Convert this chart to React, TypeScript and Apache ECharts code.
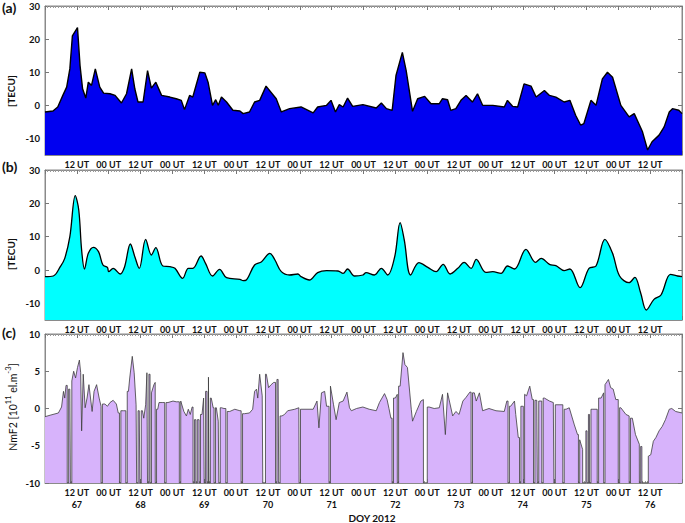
import React, { useEffect, useRef } from 'react';
import * as echarts from 'echarts';

// ---- Panel (a): TEC (dark blue) ----
const aDoy = [67.00, 67.125, 67.20, 67.28, 67.34, 67.39, 67.43, 67.51, 67.55, 67.59, 67.64, 67.68, 67.73, 67.79, 67.86, 67.92,
  68.02, 68.10, 68.20, 68.28, 68.36, 68.41, 68.46, 68.54, 68.61, 68.67, 68.74, 68.83, 68.96,
  69.06, 69.14, 69.19, 69.27, 69.32, 69.43, 69.51, 69.56, 69.63, 69.68, 69.72, 69.77, 69.85, 69.95,
  70.06, 70.11, 70.21, 70.29, 70.37, 70.47, 70.63, 70.71, 70.84,
  71.02, 71.21, 71.28, 71.42, 71.49, 71.56, 71.62, 71.68, 71.75, 71.83, 71.99,
  72.20, 72.28, 72.36, 72.45, 72.51, 72.61, 72.67, 72.77, 72.85, 72.96,
  73.06, 73.19, 73.24, 73.32, 73.37, 73.45, 73.53, 73.61, 73.71, 73.79, 73.87,
  74.03, 74.21, 74.26, 74.34, 74.42, 74.52, 74.63, 74.71, 74.84, 74.92,
  75.02, 75.15, 75.24, 75.33, 75.41, 75.46, 75.57, 75.65, 75.75, 75.83, 75.91,
  76.04, 76.17, 76.25, 76.38, 76.46, 76.53, 76.64, 76.72, 76.80, 76.85, 76.95, 77.00];
const aTec = [-2, -1.7, -0.5, 3, 5.5, 11, 21, 23.5, 12, 5, 2.2, 7, 6, 11, 5.5, 3.7,
  3.5, 3, 0.7, 3.5, 11, 5, 1, 1, 10.5, 5.2, 7, 3, 2.5,
  2, 1.5, -1.3, 3, 2.5, 10, 9.8, 7, 0, 1.7, 0, 2.5, 1, -1.5,
  -1.7, -2.5, -2, 1, 1.5, 5.8, 2, -2, -1,
  -0.5, -2.3, -0.5, 0, 1.5, -2, 0.2, -0.5, 2.2, -0.3, 0.2,
  -0.8, 0.7, -1, -1.5, 9, 16, 10.5, -1.8, 2, 2.7,
  0.5, 0.5, 2, 1.7, -1.5, -1, 1.5, 3, 1, 3.5, 0,
  0, -0.5, 1.5, -0.3, -0.5, 6.5, 5.8, 2.5, 4.5, 3,
  2.5, 1, 1.5, -3, -6, -5.5, 1.5, 0, 8, 10, 8.5,
  0, -3.5, -2.5, -8, -13.5, -11, -9, -6.5, -2, -1, -1.5, -2.5];

// ---- Panel (b): TEC (cyan, smoothed) ----
const bDoy = [67.00, 67.13, 67.24, 67.31, 67.39, 67.475, 67.53, 67.575, 67.62, 67.68, 67.76, 67.84, 67.91, 67.98,
  68.00, 68.07, 68.18, 68.25, 68.34, 68.41, 68.48, 68.58, 68.67, 68.74, 68.85, 68.96,
  69.04, 69.16, 69.25, 69.32, 69.45, 69.52, 69.63, 69.74, 69.85,
  70.06, 70.11, 70.16, 70.29, 70.40, 70.53, 70.61, 70.71, 70.84, 70.97,
  71.02, 71.15, 71.28, 71.42, 71.60, 71.68, 71.75, 71.86, 71.99,
  72.04, 72.17, 72.28, 72.38, 72.49, 72.575, 72.64, 72.74, 72.87,
  73.01, 73.14, 73.25, 73.36, 73.48, 73.58, 73.69, 73.77, 73.92,
  74.03, 74.16, 74.26, 74.37, 74.55, 74.70, 74.79, 74.92,
  75.02, 75.15, 75.24, 75.40, 75.54, 75.65, 75.79, 75.91,
  76.02, 76.17, 76.26, 76.35, 76.44, 76.56, 76.67, 76.82, 76.93, 77.00];
const bTec = [-2, -1.8, 1, 3.5, 10, 22.3, 18, 6, 0.3, 5, 6.8, 5.5, 1.5, 0.8,
  -0.5, 0.5, -1.2, 1, 7.8, 4, 0.5, 9.2, 4.5, 6.7, 1.2, 1,
  0.5, -2.5, 0.5, 0.5, 4.2, 2, -1.8, 0.2, -2.3,
  -2.8, -3.2, -3, 1.5, 2.5, 5, 3, -0.5, -1.5, -1.2,
  -2, -3, -0.8, -0.2, -0.3, -1, 0.3, -1.8, -1.5,
  -0.8, -1.5, 0.5, -1.5, 4, 14.2, 9, -1.5, 2.2,
  0.8, -0.5, 1.7, -1.2, 0.5, 2.3, 0.5, 3.2, -0.7,
  -0.5, -1, 1.2, 0.3, 6.2, 2.3, 3.5, 1.7,
  1.3, -0.2, 0.3, -5.3, 0.5, 1.2, 9.2, 5,
  -1.8, -3.8, -2.2, -6.8, -12, -8.8, -7.5, -1.3, -1.8, -2];

// ---- Panel (c): NmF2 (lavender) ----
const cDoy = [67.00, 67.08, 67.21, 67.26, 67.29, 67.31, 67.33, 67.39, 67.43, 67.45, 67.48, 67.51, 67.54, 67.56, 67.575, 67.60,
  67.63, 67.66, 67.69, 67.72, 67.74, 67.77, 67.81, 67.85, 67.88, 67.94, 67.98,
  68.02, 68.07, 68.12, 68.15, 68.23, 68.31, 68.33, 68.37, 68.40, 68.43, 68.48, 68.53, 68.55, 68.58, 68.60, 68.635,
  68.68, 68.71, 68.73, 68.77, 68.79, 68.85, 68.93,
  69.01, 69.06, 69.14, 69.18, 69.22, 69.25, 69.28, 69.31, 69.35, 69.40, 69.465, 69.49, 69.53, 69.57, 69.61, 69.64,
  69.69, 69.72, 69.77, 69.81, 69.90, 69.98,
  70.06, 70.13, 70.21, 70.26, 70.29, 70.32, 70.34, 70.37, 70.41, 70.475, 70.51, 70.55, 70.59, 70.66, 70.72, 70.76,
  70.81, 70.92, 70.985,
  71.05, 71.21, 71.27, 71.30, 71.34, 71.39, 71.42, 71.49, 71.53, 71.57, 71.62, 71.68, 71.74, 71.78, 71.81, 71.89, 71.99,
  72.09, 72.20, 72.25, 72.29, 72.33, 72.37, 72.40, 72.43, 72.50, 72.53, 72.575, 72.62, 72.65, 72.69, 72.75, 72.77,
  72.83, 72.90, 72.94,
  73.03, 73.11, 73.19, 73.24, 73.285, 73.32, 73.40, 73.45, 73.50, 73.56, 73.61, 73.67, 73.74, 73.77, 73.82, 73.87, 73.97,
  74.08, 74.21, 74.25, 74.31, 74.37, 74.39, 74.43, 74.49, 74.53, 74.56, 74.61, 74.65, 74.72, 74.77, 74.84, 74.92, 74.98,
  75.07, 75.18, 75.23, 75.31, 75.36, 75.395, 75.44, 75.50, 75.54, 75.59, 75.65, 75.73, 75.77, 75.80, 75.845, 75.88,
  75.92, 75.96,
  76.04, 76.12, 76.17, 76.22, 76.27, 76.33, 76.37, 76.48, 76.51, 76.55, 76.59, 76.64, 76.69, 76.74, 76.80, 76.84,
  76.90, 77.00];
const cNmf2 = [-1.1, -0.9, -0.6, 0.2, 2.3, 1.4, 3.1, 2.6, 3.7, 5.0, 4.1, 5.5, 6.5, 4.8, -3.0, 4.6,
  0.1, 1.4, 3.2, 1.0, -0.4, 2.3, 3.2, 1.4, 0.3, 0.6, 0.3,
  0.8, 1.1, 0.6, -0.6, -0.3, 2.3, 4.1, 7.0, 4.8, 0.5, -0.3, -0.3, -1.3, 0.5, 4.8, 4.6,
  2.1, 3.2, 3.5, -0.1, 0.8, 0.8, 0.8,
  1.0, 0.9, 1.0, -0.4, -1.0, -0.1, -0.8, 0.2, -1.5, -1.5, -0.8, 1.4, 2.3, 4.2, 1.4, 0.1,
  0.1, -1.7, 0.1, 0, -0.4, -0.1,
  -0.3, -0.7, -0.6, -0.1, 2.3, 2.6, 1.4, 4.6, 1.7, 4.6, 2.8, 3.2, 3.5, 3.9, -1.0, -0.8,
  -0.3, -0.1, 0.1,
  -0.1, -0.1, 1.0, -2.6, 2.1, 2.3, 0.3, 3.0, 0.5, -1.5, 0.8, 1.0, 2.2, 0.1, -0.3, 0, 0.2,
  -0.1, -0.3, 0.8, 1.4, 2.0, 1.2, 0, -1.3, 1.4, 1.9, 3.0, 7.5, 5.9, 5.5, -0.1, -1.7,
  -0.4, 1.0, 1.2,
  0.2, 0, 0.1, 1.9, -3.5, 2.1, -1.0, -0.4, -0.8, 1.0, 1.5, 2.2, 2.1, 1.0, 2.1, -0.3, 0,
  -0.3, -0.4, 1.0, 0.3, 1.0, -0.8, -3.9, 0.3, 1.9, 1.7, 3.0, 1.2, 1.1, 1.0, 1.4, 1.0, 0.8,
  0.5, -0.1, 0.1, -2.2, -3.5, -4.2, -5.5, -3.0, -0.8, -0.1, -0.1, 1.4, 2.1, 3.2, 3.9, 2.8,
  2.6, 1.2,
  0.1, -0.8, -1.0, -1.3, -3.5, -4.8, -5.1, -6.4, -6.2, -4.4, -3.9, -3.0, -2.4, -1.5, -0.1, 0,
  -0.4, -0.6];
// data gaps (value drops to the bottom of the axis)
const cGapDoy = [67.36, 67.41, 67.89, 68.18, 68.28, 68.45, 68.50, 68.62, 68.66, 68.74, 68.89,
  69.12, 69.335, 69.38, 69.43, 69.51, 69.555, 69.585, 69.665, 69.74, 69.85,
  70.09, 70.43, 70.45, 70.63, 70.68, 71.00, 71.47, 72.46, 72.54, 72.95, 72.99,
  73.70, 74.28, 74.46, 74.52, 74.68, 74.74, 74.81, 75.00, 75.14, 75.385, 75.45, 75.47, 75.48, 75.52, 75.56,
  75.68, 75.78, 76.01, 76.18, 76.34, 76.38, 76.40, 76.43, 76.46];

const tecTicks = [-10, 0, 10, 20, 30];
const nmTicks = [-10, -5, 0, 5, 10];
const dayLabels = ['67', '68', '69', '70', '71', '72', '73', '74', '75', '76'];

const FONT = 'Lato';
const GAP_FLOOR = -10;
const GAP_HALF = 0.011;

function pairs(xs: number[], ys: number[]) {
  return xs.map((x, i) => [x, ys[i]]);
}

// Each gap: the curve holds its last value, drops vertically to the floor and comes back up to the next value.
function withGaps() {
  const base: number[][] = pairs(cDoy, cNmf2);
  const out: number[][] = [];
  const gaps = [...cGapDoy].sort((a, b) => a - b);
  let gi = 0;
  for (let i = 0; i < base.length; i++) {
    const p = base[i];
    const next = base[i + 1];
    out.push(p);
    if (!next) break;
    const inside: number[] = [];
    while (gi < gaps.length && gaps[gi] < next[0]) {
      if (gaps[gi] > p[0]) inside.push(gaps[gi]);
      gi++;
    }
    if (inside.length) {
      const lo = Math.max(inside[0] - GAP_HALF, p[0] + 0.001);
      const hi = Math.min(inside[inside.length - 1] + GAP_HALF, next[0] - 0.001);
      out.push([lo, p[1]]);
      out.push([lo, GAP_FLOOR]);
      out.push([hi, GAP_FLOOR]);
      out.push([hi, next[1]]);
    }
  }
  return out;
}

export default function App() {
  const ref = useRef<HTMLDivElement>(null);
  useEffect(() => {
    if (!ref.current) return;
    const chart = echarts.init(ref.current, undefined, { renderer: 'svg' });

    const grids = [
      { left: 45, top: 6, width: 638, height: 149 },
      { left: 45, top: 170, width: 638, height: 150 },
      { left: 45, top: 334, width: 638, height: 149 },
    ];

    const isDay = (v: number) => Math.abs(v - Math.round(v)) < 1e-6;
    const xLabel = (last: boolean) => (v: number) => {
      if (v <= 67.0001 || v >= 76.9999) return '';
      if (isDay(v)) return '00 UT';
      const d = dayLabels[Math.floor(v) - 67];
      return last ? '12 UT\n' + d : '12 UT';
    };

    const xAxes: any[] = [];
    const yAxes: any[] = [];
    grids.forEach((_, i) => {
      const base = {
        type: 'value', gridIndex: i, min: 67, max: 77, interval: 0.5,
        axisLine: { show: true, onZero: false, lineStyle: { color: '#8a8a8a', width: 1 } },
        axisTick: { show: true, inside: true, length: 4, lineStyle: { color: '#777' } },
        minorTick: { show: true, splitNumber: 12, length: 2, lineStyle: { color: '#999' } },
        splitLine: { show: false },
        minorSplitLine: { show: false },
      };
      xAxes.push({
        ...base,
        position: 'bottom',
        axisLabel: {
          show: true, formatter: xLabel(i === 2), fontFamily: FONT, fontWeight: 'bold',
          fontSize: 9, color: '#111', margin: 3, lineHeight: 12,
        },
      });
      xAxes.push({ ...base, position: 'top', axisLabel: { show: false } });

      const isC = i === 2;
      const ticks = isC ? nmTicks : tecTicks;
      const ybase = {
        type: 'value', gridIndex: i,
        min: isC ? -10 : -15, max: isC ? 10 : 30, interval: 5,
        axisLine: { show: true, onZero: false, lineStyle: { color: '#8a8a8a', width: 1 } },
        axisTick: { show: true, inside: true, length: 4, lineStyle: { color: '#777' }, customValues: ticks },
        splitLine: { show: false },
      };
      yAxes.push({
        ...ybase, position: 'left',
        axisLabel: {
          customValues: ticks, fontFamily: FONT, fontWeight: 'bold', fontSize: 9.5, color: '#111', margin: 5,
        },
      });
      yAxes.push({ ...ybase, position: 'right', axisLabel: { show: false } });
    });

    const option: any = {
      animation: false,
      backgroundColor: '#ffffff',
      grid: grids.map((g) => ({ ...g, show: true, borderColor: '#8a8a8a', borderWidth: 1, backgroundColor: 'transparent' })),
      xAxis: xAxes,
      yAxis: yAxes,
      series: [
        {
          type: 'line', xAxisIndex: 0, yAxisIndex: 0, data: pairs(aDoy, aTec), symbol: 'none',
          lineStyle: { color: '#000', width: 1.4 },
          areaStyle: { color: '#0000f0', opacity: 1, origin: 'start' },
        },
        {
          type: 'line', xAxisIndex: 2, yAxisIndex: 2, data: pairs(bDoy, bTec), symbol: 'none', smooth: 0.35,
          lineStyle: { color: '#000', width: 1.3 },
          areaStyle: { color: '#00ffff', opacity: 1, origin: 'start' },
        },
        {
          type: 'line', xAxisIndex: 4, yAxisIndex: 4, data: withGaps(), symbol: 'none',
          lineStyle: { color: '#3c3c3c', width: 0.8 },
          areaStyle: { color: '#d7b3fb', opacity: 1, origin: 'start' },
        },
      ],
      graphic: [
        { type: 'text', left: 2, top: 0, style: { text: '(a)', fontFamily: FONT, fontWeight: 'bold', fontSize: 14, fill: '#111' } },
        { type: 'text', left: 2, top: 159, style: { text: '(b)', fontFamily: FONT, fontWeight: 'bold', fontSize: 14, fill: '#111' } },
        { type: 'text', left: 2, top: 325, style: { text: '(c)', fontFamily: FONT, fontWeight: 'bold', fontSize: 14, fill: '#111' } },
        {
          type: 'text', x: 11, y: 91, rotation: Math.PI / 2,
          style: { text: '[TECU]', fontFamily: FONT, fontWeight: 'bold', fontSize: 10, fill: '#111', align: 'center', verticalAlign: 'middle' },
        },
        {
          type: 'text', x: 11, y: 254, rotation: Math.PI / 2,
          style: { text: '[TECU]', fontFamily: FONT, fontWeight: 'bold', fontSize: 10, fill: '#111', align: 'center', verticalAlign: 'middle' },
        },
        {
          type: 'text', x: 11, y: 407, rotation: Math.PI / 2,
          style: {
            text: '{a|NmF2 [10}{s|11}{a| el.m}{s|-3}{a|]}',
            align: 'center', verticalAlign: 'middle',
            rich: {
              a: { fontFamily: FONT, fontSize: 10.5, fill: '#111', lineHeight: 14, verticalAlign: 'bottom' },
              s: { fontFamily: FONT, fontSize: 7.5, fill: '#111', lineHeight: 14, verticalAlign: 'top' },
            },
          },
        },
        {
          type: 'text', x: 372, y: 518,
          style: { text: 'DOY 2012', fontFamily: FONT, fontWeight: 'bold', fontSize: 10, fill: '#111', align: 'center', verticalAlign: 'middle' },
        },
      ],
    };
    chart.setOption(option);
    return () => chart.dispose();
  }, []);

  return (
    <div
      ref={ref}
      style={{ position: 'absolute', left: 0, top: 0, width: 685, height: 523, background: '#fff' }}
    />
  );
}
